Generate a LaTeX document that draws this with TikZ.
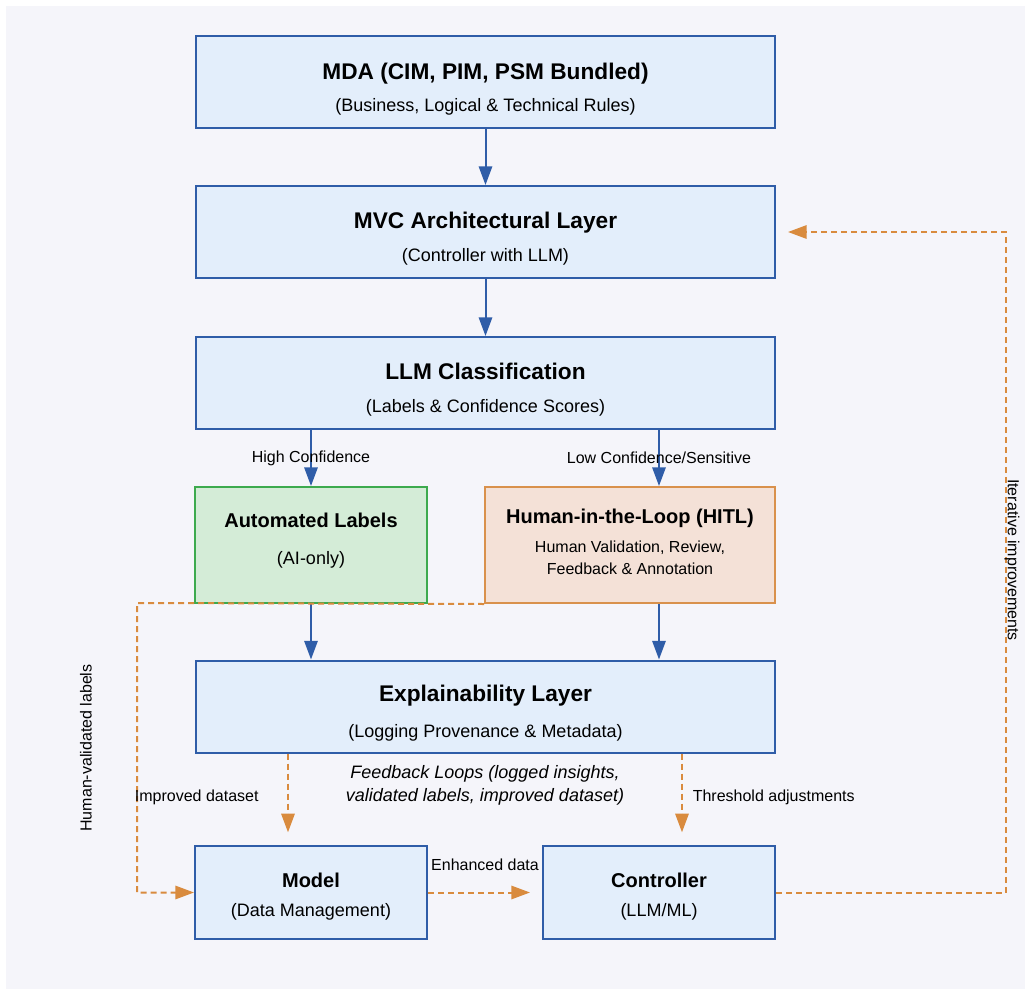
\documentclass[tikz,border=0pt]{standalone}
\usepackage{fontspec}
\setmainfont{Liberation Sans}
\usepackage{xcolor}
\usepackage{tikz}
\usetikzlibrary{arrows.meta}
\definecolor{canvas}{HTML}{F5F5FA}
\definecolor{layerblue}{HTML}{2F5DA8}
\definecolor{layerfill}{HTML}{E3EEFB}
\definecolor{autogreen}{HTML}{3DAA4E}
\definecolor{autofill}{HTML}{D4ECD7}
\definecolor{hitlorange}{HTML}{D9914C}
\definecolor{hitlfill}{HTML}{F4E1D7}
\definecolor{loopcolor}{HTML}{D98B3E}
\newcommand{\layerttl}[1]{{\fontsize{17}{20}\selectfont\bfseries\rule{0pt}{22.4pt}#1}}
\newcommand{\unitttl}[1]{{\fontsize{15}{18}\selectfont\bfseries #1}}

\begin{document}
\begin{tikzpicture}[
    x=0.75pt, y=-0.75pt,
    layer/.style={rectangle, draw=layerblue, fill=layerfill, line width=1.5pt,
                  align=center, minimum width=434.25pt, minimum height=69pt,
                  font=\fontsize{13.5}{16}\selectfont},
    unit/.style={layer, minimum width=174pt, minimum height=69.75pt},
    autobox/.style={layer, draw=autogreen, fill=autofill,
                    minimum width=174pt, minimum height=87pt},
    hitlbox/.style={layer, draw=hitlorange, fill=hitlfill,
                    minimum width=217.5pt, minimum height=87pt,
                    font=\fontsize{12}{16}\selectfont},
    flow/.style={-{Triangle[length=14pt, width=10pt]}, line width=1.5pt, draw=layerblue},
    loop/.style={-{Triangle[length=14pt, width=10pt]}, line width=1.5pt, draw=loopcolor,
                 dash pattern=on 4.5pt off 3pt},
    lbl/.style={font=\fontsize{12}{14}\selectfont},
    loopnote/.style={font=\fontsize{13.5}{17}\selectfont\itshape, align=center}
  ]
    \fill[canvas] (6,6) rectangle (1025,989);
    \useasboundingbox (0,0) rectangle (1031,995);

    \node[layer] (mda)  at (485.5,82)    {\layerttl{MDA (CIM, PIM, PSM Bundled)}\\[8pt](Business, Logical \& Technical Rules)};
    \node[layer] (mvc)  at (485.5,232)   {\layerttl{MVC Architectural Layer}\\[9pt](Controller with LLM)};
    \node[layer] (llm)  at (485.5,383)   {\layerttl{LLM Classification}\\[9pt](Labels \& Confidence Scores)};
    \node[autobox] (auto) at (311,545)   {\unitttl{Automated Labels}\\[11.5pt](AI-only)\rule[-9pt]{0pt}{9pt}};
    \node[hitlbox] (hitl) at (630,545)   {\unitttl{Human-in-the-Loop (HITL)}\\[6pt]Human Validation, Review,\\Feedback \& Annotation\rule[-5pt]{0pt}{5pt}};
    \node[layer] (expl) at (485.5,706.5) {\layerttl{Explainability Layer}\\[10.5pt](Logging Provenance \& Metadata)};
    \node[unit] (model) at (311,892.5)   {\unitttl{\rule{0pt}{17pt}Model}\\[6pt](Data Management)};
    \node[unit] (ctrl)  at (659,892.5)   {\unitttl{\rule{0pt}{17pt}Controller}\\[6pt](LLM/ML)};

    \coordinate (hvbend)   at (137,603);
    \coordinate (iterbend) at (1006,232);

    \draw[flow] (mda) -- (mvc);
    \draw[flow] (mvc) -- (llm);
    \draw[flow] (llm.south -| auto) -- (auto.north)
      node[midway, lbl] (highconf) {High Confidence};
    \draw[flow] (llm.south -| ctrl) -- (hitl.north -| ctrl)
      node[midway, lbl] (lowconf) {Low Confidence/Sensitive};
    \draw[flow] (auto.south) -- (auto.south |- expl.north);
    \draw[flow] (hitl.south -| ctrl) -- (expl.north -| ctrl);

    \draw[loop] (hitl.south west) -- (hvbend) |- (model.west);
    \node[lbl, rotate=90] (hvlabels) at (86,748) {Human-validated labels};

    \draw[loop, shorten >=9.5pt] ([xshift=-17.25pt]model.north |- expl.south) -- ([xshift=-17.25pt]model.north)
      node[midway, left=18pt, yshift=1.5pt, lbl] (impdata) {Improved dataset};
    \draw[loop, shorten >=9.5pt] ([xshift=17.25pt]ctrl.north |- expl.south) -- ([xshift=17.25pt]ctrl.north)
      node[midway, right=4pt, yshift=1.5pt, lbl] (thresh) {Threshold adjustments};
    \draw[loop, shorten >=9pt] (model) -- (ctrl)
      node[midway, above=12pt, lbl] (enhanced) {Enhanced data};
    \draw[loop, shorten >=9pt] (ctrl.east) -| (iterbend) -- (mvc.east);
    \node[lbl, rotate=-90] (iterlabel) at (1012,560) {Iterative improvements};

    \node[loopnote] (fbnote) at (485,785.5) {Feedback Loops (logged insights,\\validated labels, improved dataset)};
\end{tikzpicture}
\end{document}
